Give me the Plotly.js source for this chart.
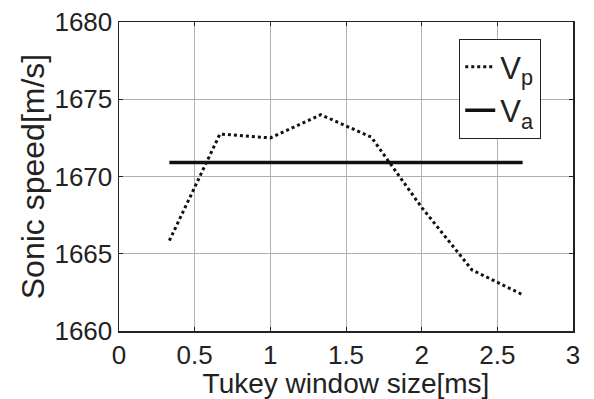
<!DOCTYPE html>
<html><head><meta charset="utf-8">
<script src="https://cdn.plot.ly/plotly-3.0.1.min.js"></script>
<style>body{margin:0;background:#fff}#c{width:594px;height:399px}</style>
</head><body><div id="c"></div>
<script>
const windowSize = [0.333, 0.667, 1.0, 1.333, 1.667, 2.0, 2.333, 2.667];
const vp = [1665.85, 1672.75, 1672.5, 1674.0, 1672.55, 1668.0, 1663.95, 1662.35];
const vaX = [0.333, 2.667];
const vaY = [1670.9, 1670.9];
const xTicks = [0, 0.5, 1, 1.5, 2, 2.5, 3];
const yTicks = [1660, 1665, 1670, 1675, 1680];

const font = "Liberation Sans, Arial, sans-serif";
const traces = [
  {x: windowSize, y: vp, mode: 'lines', name: 'V<sub>p</sub>',
   line: {color: '#111', width: 3, dash: 'dot'}},
  {x: vaX, y: vaY, mode: 'lines', name: 'V<sub>a</sub>',
   line: {color: '#111', width: 3.5}}
];
const axisCommon = {
  showline: true, linecolor: '#222', linewidth: 1.5, mirror: 'ticks',
  ticks: 'inside', ticklen: 4, tickcolor: '#222',
  showgrid: true, gridcolor: '#b0b0b0', gridwidth: 1, zeroline: false,
  tickfont: {family: font, size: 26, color: '#222'}
};
const layout = {
  width: 594, height: 399,
  margin: {l: 119, r: 21, t: 22, b: 68},
  paper_bgcolor: '#fff', plot_bgcolor: '#fff',
  showlegend: true,
  legend: {x: 0.749, y: 0.945, xanchor: 'left', yanchor: 'top',
    bgcolor: '#fff', bordercolor: '#222', borderwidth: 1.2,
    font: {family: font, size: 31, color: '#222'}, tracegroupgap: 0, itemwidth: 30},
  xaxis: Object.assign({}, axisCommon, {range: [0, 3], tickvals: xTicks, ticktext: xTicks.map(String),
    title: {text: 'Tukey window size[ms]', font: {family: font, size: 28, color: '#222'}, standoff: 4}}),
  yaxis: Object.assign({}, axisCommon, {range: [1660, 1680], tickvals: yTicks, ticktext: yTicks.map(String),
    title: {text: 'Sonic speed[m/s]', font: {family: font, size: 32, color: '#222'}, standoff: 0}})
};
Plotly.newPlot('c', traces, layout, {staticPlot: true});
</script></body></html>
